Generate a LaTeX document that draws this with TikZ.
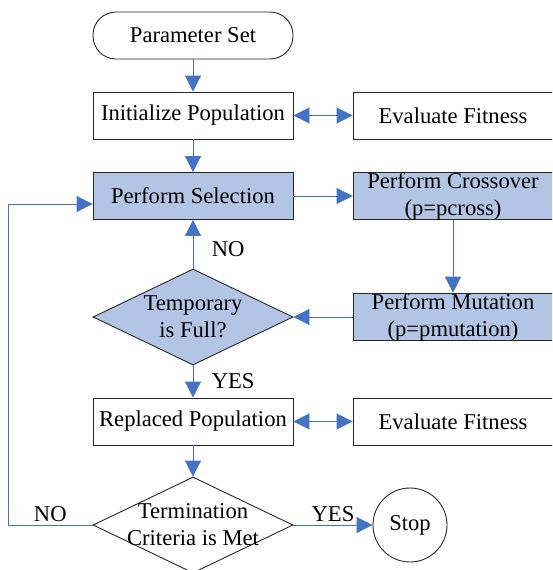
\documentclass[tikz,border=0pt]{standalone}
\usepackage{fontspec}
\setmainfont{Liberation Serif}
\usetikzlibrary{shapes.geometric,arrows.meta}
\definecolor{boxblue}{RGB}{178,197,228}
\definecolor{lineblue}{RGB}{68,114,196}
\begin{document}
\begin{tikzpicture}[x=1pt,y=-1pt,
    font=\fontsize{22.6}{27}\selectfont,
    block/.style={draw=black!85, line width=0.9pt, rectangle,
          minimum width=200pt, minimum height=47pt,
          inner sep=0pt, align=center},
    filled/.style={block, fill=boxblue},
    decision/.style={draw=black!85, line width=0.9pt, diamond,
          minimum width=200pt, minimum height=96pt, inner sep=0pt},
    flow/.style={draw=lineblue, line width=0.9pt,
          -{Triangle[length=16pt,width=16pt]}},
    twoway/.style={flow,
          {Triangle[length=16pt,width=16pt]}-{Triangle[length=16pt,width=16pt]}}]
    \useasboundingbox (0,0) rectangle (552,570);
    \clip (0,0) rectangle (552,570);
    % main column
    \node[block, rounded corners=23pt] (param) at (193,35.5) {Parameter Set};
    \node[block] (init) at (193,115.5) {Initialize Population};
    \node[filled] (select) at (193,196) {Perform Selection};
    \node[decision, fill=boxblue] (temp) at (193,317) {};
    \node[align=center] at (temp) {Temporary\\is Full?};
    \node[block] (replace) at (193,421.5) {Replaced Population};
    \node[decision] (term) at (193,525) {};
    \node[align=center] at (term) {Termination\\Criteria is Met};
    % right column
    \node[block] (eval1) at (453,115.5) {Evaluate Fitness};
    \node[filled] (cross) at (453,196) {Perform Crossover\\(p=pcross)};
    \node[filled] (mutate) at (453,317) {Perform Mutation\\(p=pmutation)};
    \node[block] (eval2) at (453,421.5) {Evaluate Fitness};
    \node[draw=black!85, line width=0.9pt, circle, minimum size=74pt,
          inner sep=0pt] (stop) at (410,525) {Stop};
    \coordinate (loop) at (8,204);
    % connectors
    \draw[flow] (param) -- (init);
    \draw[twoway] (init) -- (eval1);
    \draw[flow] (init) -- (select);
    \draw[flow] (select) -- (cross);
    \draw[flow] (cross) -- (mutate);
    \draw[flow] (mutate) -- (temp);
    \draw[flow] (temp) -- node[right=15pt, pos=0.4]{NO} (select);
    \draw[flow] (temp) -- node[right=15pt]{YES} (replace);
    \draw[twoway] (replace) -- (eval2);
    \draw[flow] (replace) -- (term);
    \draw[flow] (term) -- node[above]{YES} (stop);
    \draw[flow] (term.west) -| node[above, pos=0.25]{NO} (loop)
          -- (loop -| select.west);
\end{tikzpicture}
\end{document}
